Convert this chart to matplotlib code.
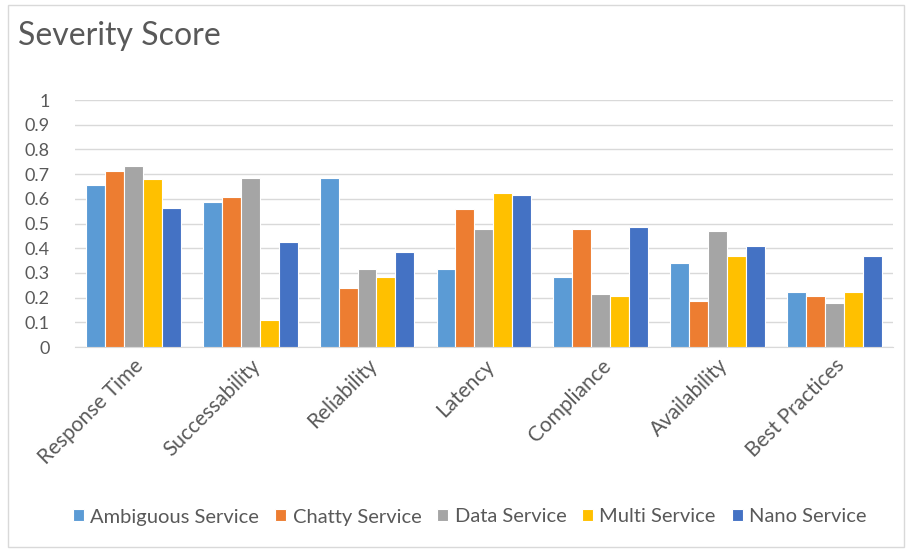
import matplotlib
matplotlib.use("Agg")
import matplotlib.pyplot as plt
import matplotlib.patches as mpatches
import numpy as np

CATEGORIES = ["Response Time", "Successability", "Reliability", "Latency",
              "Compliance", "Availability", "Best Practices"]

SERIES_NAMES = ["Ambiguous Service", "Chatty Service", "Data Service",
                "Multi Service", "Nano Service"]

AMBIGUOUS = [0.655, 0.586, 0.686, 0.316, 0.285, 0.339, 0.223]
CHATTY = [0.711, 0.609, 0.239, 0.557, 0.478, 0.185, 0.207]
DATA = [0.732, 0.686, 0.316, 0.478, 0.216, 0.470, 0.178]
MULTI = [0.680, 0.108, 0.285, 0.624, 0.207, 0.370, 0.223]
NANO = [0.564, 0.424, 0.385, 0.616, 0.486, 0.409, 0.370]

COLORS = ["#5B9BD5", "#ED7D31", "#A5A5A5", "#FFC000", "#4472C4"]

TEXT_COLOR = "#595959"
plt.rcParams["font.family"] = ["Lato", "DejaVu Sans"]

fig = plt.figure(figsize=(9.09, 5.5), dpi=100)
ax = fig.add_axes([0.0825, 0.369, 0.8995, 0.449])

# light border around the whole chart
fig.patches.append(mpatches.Rectangle((0.009, 0.006), 0.986, 0.985,
                                      transform=fig.transFigure, fill=False,
                                      edgecolor="#D9D9D9", linewidth=1))

series = [AMBIGUOUS, CHATTY, DATA, MULTI, NANO]
x = np.arange(len(CATEGORIES))
step = 0.162
for i, (name, vals, col) in enumerate(zip(SERIES_NAMES, series, COLORS)):
    ax.bar(x + (i - 2) * step, vals, width=step, color=col, label=name,
           edgecolor="white", linewidth=0.8, zorder=3)

ax.set_xlim(-0.5, len(CATEGORIES) - 0.5)
ax.set_ylim(0, 1)
ax.set_yticks(np.arange(0, 1.01, 0.1))
ax.set_yticklabels(["0", "0.1", "0.2", "0.3", "0.4", "0.5", "0.6", "0.7",
                    "0.8", "0.9", "1"])
ax.grid(axis="y", color="#D9D9D9", linewidth=1, zorder=0)
ax.set_xticks(x)
ax.set_xticklabels(CATEGORIES, rotation=45, ha="right", rotation_mode="anchor")
ax.tick_params(axis="y", length=0, colors=TEXT_COLOR, labelsize=13, pad=18)
ax.tick_params(axis="x", length=0, colors=TEXT_COLOR, labelsize=15, pad=6)
for side in ["top", "right", "left"]:
    ax.spines[side].set_visible(False)
ax.spines["bottom"].set_color("#D9D9D9")

fig.text(0.02, 0.935, "Severity Score", fontsize=23, color=TEXT_COLOR,
         va="center", ha="left")

fig.legend(loc="center", bbox_to_anchor=(0.517, 0.06), ncol=5, frameon=False,
           handlelength=0.55, handleheight=0.55, handletextpad=0.3,
           columnspacing=0.8, fontsize=14.5, labelcolor=TEXT_COLOR)

fig.savefig("out.png", dpi=100)
